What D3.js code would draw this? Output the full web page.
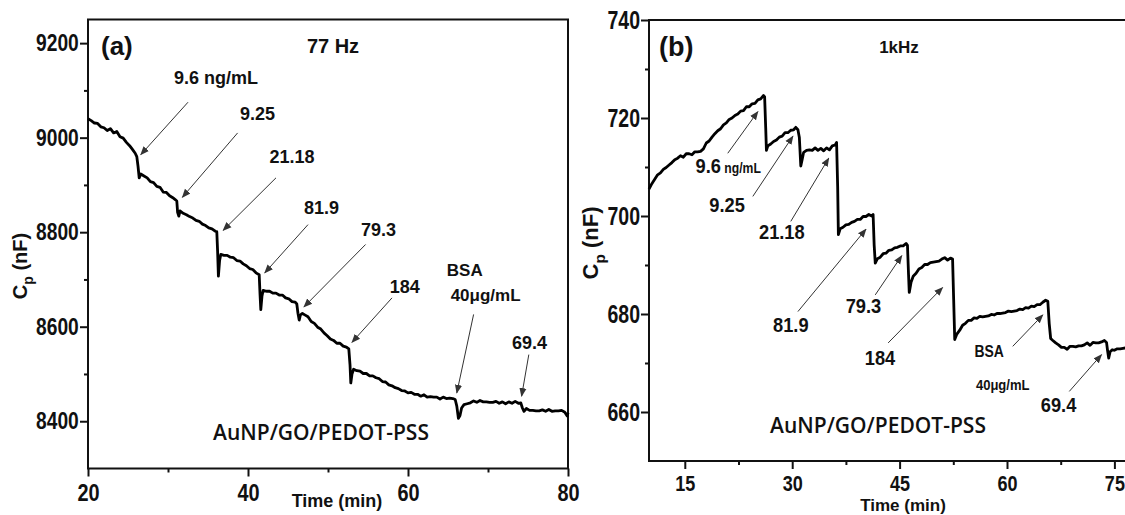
<!DOCTYPE html>
<html><head><meta charset="utf-8">
<script src="https://cdn.jsdelivr.net/npm/d3@7"></script>
<style>
html,body{margin:0;padding:0;background:#fff;}
svg{display:block;}
text{font-family:"Liberation Sans",Arial,sans-serif;fill:#111;}
</style></head>
<body>
<svg id="chart" width="1125" height="515"></svg>
<script>
// ---------- DATA ----------
// Panel (a) 77 Hz : [time (min), Cp (nF)]
const seriesA = [
 [20,9040],[20.4,9036],[20.8,9031],[21.2,9030],[21.6,9023],[22,9021],[22.4,9015],[22.8,9019],[23.2,9010],[23.6,9013],[24,9002],[24.4,8999],[24.8,8990],[25.2,8983],[25.6,8974],[25.9,8967],[26.1,8960],
 [26.25,8940],[26.4,8915],[26.6,8923],[27,8919],[27.4,8915],[27.8,8907],[28.2,8905],[28.6,8897],[29,8895],[29.4,8885],[29.8,8884],[30.2,8877],[30.6,8873],[30.9,8869],[31.1,8866],
 [31.2,8842],[31.35,8834],[31.5,8845],[31.9,8840],[32.3,8837],[32.7,8833],[33.1,8830],[33.5,8825],[33.9,8823],[34.3,8817],[34.7,8814],[35.1,8809],[35.5,8807],[35.9,8802],[36.1,8801],
 [36.2,8760],[36.3,8707],[36.45,8740],[36.6,8753],[37,8751],[37.4,8751],[37.8,8747],[38.2,8746],[38.6,8740],[39,8739],[39.4,8733],[39.8,8729],[40.2,8723],[40.6,8721],[41,8714],[41.4,8710],
 [41.5,8670],[41.6,8636],[41.75,8665],[41.9,8677],[42.3,8675],[42.7,8675],[43.1,8671],[43.5,8671],[43.9,8667],[44.3,8667],[44.7,8661],[45.1,8659],[45.5,8653],[45.9,8652],[46.1,8648],
 [46.25,8628],[46.4,8614],[46.55,8625],[46.8,8628],[47.1,8625],[47.5,8621],[47.9,8611],[48.3,8607],[48.7,8599],[49.1,8595],[49.5,8587],[49.9,8581],[50.3,8574],[50.7,8571],[51.1,8565],[51.5,8565],[51.9,8559],[52.3,8557],[52.6,8553],
 [52.75,8520],[52.85,8481],[53,8500],[53.2,8510],[53.6,8507],[54,8506],[54.4,8501],[54.8,8501],[55.2,8496],[55.6,8496],[56,8492],[56.4,8490],[56.8,8484],[57.2,8483],[57.6,8477],[58,8475],[58.4,8471],[58.8,8469],[59.2,8465],[59.6,8464],[60,8460],[60.4,8461],[60.8,8457],[61.2,8457],[61.6,8453],[62,8456],[62.4,8451],[62.8,8452],[63.2,8451],[63.6,8451],[64,8447],[64.4,8451],[64.8,8448],[65.2,8449],[65.6,8448],[65.9,8446],
 [66.1,8432],[66.3,8406],[66.5,8412],[66.7,8428],[67,8435],[67.4,8437],[67.8,8439],[68.2,8443],[68.6,8440],[69,8444],[69.4,8441],[69.8,8441],[70.2,8440],[70.6,8440],[71,8442],[71.4,8438],[71.8,8441],[72.2,8437],[72.6,8441],[73,8438],[73.4,8442],[73.8,8438],[74.1,8439],
 [74.3,8428],[74.5,8421],[74.8,8427],[75.2,8423],[75.6,8423],[76,8422],[76.4,8422],[76.8,8424],[77.2,8421],[77.6,8425],[78,8421],[78.4,8422],[78.8,8422],[79.2,8423],[79.6,8419],[79.9,8411],[80,8418]
];
// Panel (b) 1 kHz : [time (min), Cp (nF)]
const seriesB = [
 [10,705.5],[10.4,706.6],[10.8,707.5],[11.2,708.4],[11.6,708.8],[12,709.5],[12.4,709.9],[12.8,710.4],[13.2,710.9],[13.6,711.5],[14,711.8],[14.4,712.3],[14.8,712],[15.2,712.7],[15.6,712.7],[16,712.5],[16.4,713.1],[16.8,713.1],[17.2,713.2],[17.6,713.7],[18,714.9],[18.4,715.3],[18.8,716.1],[19.2,716.8],[19.6,717.4],[20,717.8],[20.4,718.6],[20.8,719],[21.2,719.7],[21.6,720],[22,720.5],[22.4,720.8],[22.8,721.4],[23.2,721.5],[23.6,722.3],[24,722.3],[24.4,722.9],[24.8,723],[25.2,723.7],[25.6,723.9],[26,724.6],[26.15,724.3],
 [26.3,718],[26.4,713.4],[26.6,714.3],[27,714.7],[27.4,715.2],[27.8,715.5],[28.2,716.1],[28.6,716.3],[29,717],[29.4,717],[29.8,717.5],[30.2,717.6],[30.5,718.1],[30.8,717.6],[31,716],
 [31.2,710.2],[31.4,711.6],[31.6,713],[32,713.4],[32.4,713.5],[32.8,713.4],[33.2,713.9],[33.6,713.4],[34,713.8],[34.4,713.3],[34.8,713.9],[35.2,713.5],[35.6,714.3],[36,714.5],[36.2,715],
 [36.35,706],[36.45,696.2],[36.7,697.4],[37.1,697.7],[37.5,698.2],[37.9,698.3],[38.3,698.7],[38.7,698.9],[39.1,699.3],[39.5,699.3],[39.9,699.9],[40.3,699.9],[40.7,700.3],[41.1,700],[41.3,700.3],
 [41.45,694],[41.6,690.4],[41.9,691.3],[42.3,691.6],[42.7,692.3],[43.1,692.4],[43.5,693],[43.9,693.1],[44.3,693.5],[44.7,693.6],[45.1,693.9],[45.5,693.9],[45.9,694.4],[46.1,694],
 [46.25,688],[46.35,684.4],[46.6,686.5],[46.9,687.7],[47.3,688.3],[47.7,689.2],[48.1,689.5],[48.5,690.1],[48.9,690.1],[49.3,690.5],[49.7,690.6],[50.1,690.7],[50.5,690.8],[50.9,691.2],[51.3,691.5],[51.7,691],[52.1,691.4],[52.4,691.2],
 [52.55,683],[52.7,674.8],[53,675.9],[53.4,676.7],[53.8,677.7],[54.2,678.1],[54.6,678.7],[55,678.7],[55.4,679.2],[55.8,679.1],[56.2,679.5],[56.6,679.4],[57,679.5],[57.4,679.6],[57.8,679.9],[58.2,679.8],[58.6,680.1],[59,680.1],[59.4,680.2],[59.8,680.3],[60.2,680.6],[60.6,680.5],[61,680.6],[61.4,680.7],[61.8,681],[62.2,680.9],[62.6,681.3],[63,681.2],[63.4,681.6],[63.8,681.5],[64.2,681.9],[64.6,681.9],[65,682.4],[65.4,682.8],[65.7,682.6],
 [65.9,678],[66.1,675],[66.4,674.6],[66.8,674.1],[67.2,673.7],[67.6,673.2],[68,673.2],[68.4,672.8],[68.8,673.4],[69.2,673.4],[69.6,673.3],[70,673.5],[70.4,673.5],[70.8,673.7],[71.2,674.1],[71.6,673.6],[72,674.2],[72.4,674.1],[72.8,674.1],[73.2,674.3],[73.6,674.6],[73.9,674.2],
 [74.05,672.5],[74.2,671],[74.4,672.3],[74.7,672.7],[75,672.6],[75.4,672.9],[75.8,672.9],[76.2,673],[76.6,673.1],[77,673.1],[77.5,673.2]
];
// Tick values
const ticksAx = [20,40,60,80], minorAx = [30,50,70];
const ticksAy = [8400,8600,8800,9000,9200], minorAy = [8500,8700,8900,9100];
const ticksBx = [15,30,45,60,75], minorBx = [22.5,37.5,52.5,67.5];
const ticksBy = [660,680,700,720,740], minorBy = [670,690,710,730];
// Annotation labels: text lines, label centre [t, v], arrow from [t, v] to [t, v]
const labelsA = [
 {lines:["9.6 ng/mL"], at:[36,9128], from:[32.5,9075], to:[26.6,8964]},
 {lines:["9.25"], at:[41.2,9052], from:[38.7,9010], to:[31.8,8874]},
 {lines:["21.18"], at:[45.5,8960], from:[43.5,8915], to:[36.9,8804]},
 {lines:["81.9"], at:[49.2,8853], from:[47.5,8816], to:[42.1,8714]},
 {lines:["79.3"], at:[56.3,8805], from:[54.7,8774], to:[47,8642]},
 {lines:["184"], at:[59.6,8684], from:[58,8661], to:[53,8567]},
 {lines:["BSA","40μg/mL"], at:[67.1,8721], at2:[69.7,8668], from:[68.2,8626], to:[66.1,8460]},
 {lines:["69.4"], at:[75.2,8567], from:[75.1,8541], to:[74.2,8453]}
];
const labelsB = [
 {lines:["9.6"], unit:"ng/mL", at:[16.5,710.3], from:[21,712.8], to:[25.2,721.3]},
 {lines:["9.25"], at:[20.9,702.3], from:[24.5,704], to:[30.1,716.3]},
 {lines:["21.18"], at:[28.55,696.8], from:[29.8,698.9], to:[35.1,711.8]},
 {lines:["81.9"], at:[29.8,677.8], from:[30.8,680.5], to:[40.3,697.3]},
 {lines:["79.3"], at:[39.95,681.7], from:[41.6,683.9], to:[45.3,691.9]},
 {lines:["184"], at:[42.26,671.1], from:[43.4,674.1], to:[51,685.4]},
 {lines:["BSA","40μg/mL"], at:[57.5,672.3], at2:[59.4,665.6], from:[60.8,673.4], to:[65,679.8]},
 {lines:["69.4"], at:[67.2,661.5], from:[68.7,664.2], to:[73.2,671.7]}
];

// ---------- DRAW ----------
const svg = d3.select("#chart");
svg.append("rect").attr("width",1125).attr("height",515).attr("fill","#fff");
const defs = svg.append("defs");
defs.append("marker").attr("id","arr").attr("viewBox","0 0 10 10").attr("refX",9).attr("refY",5)
  .attr("markerWidth",9).attr("markerHeight",9).attr("markerUnits","userSpaceOnUse").attr("orient","auto")
  .append("path").attr("d","M0,1 L10,5 L0,9 Z").attr("fill","#333");

function squeezeText(sel, sx){ sel.attr("transform", `scale(${sx},1)`); }

function panel(cfg){
  const g = svg.append("g");
  const x = d3.scaleLinear().domain(cfg.xd).range(cfg.xr);
  const y = d3.scaleLinear().domain(cfg.yd).range(cfg.yr);
  // axes
  const ax = g.append("g").attr("transform",`translate(0,${cfg.yr[0]})`)
    .call(d3.axisBottom(x).tickValues(cfg.tx).tickSize(8).tickPadding(cfg.xPad).tickFormat(d3.format("d")));
  g.append("g").attr("transform",`translate(0,${cfg.yr[0]})`)
    .call(d3.axisBottom(x).tickValues(cfg.mx).tickSize(4).tickFormat(""));
  const ay = g.append("g").attr("transform",`translate(${cfg.xr[0]},0)`)
    .call(d3.axisLeft(y).tickValues(cfg.ty).tickSize(8).tickPadding(3.5).tickFormat(d3.format("d")));
  g.append("g").attr("transform",`translate(${cfg.xr[0]},0)`)
    .call(d3.axisLeft(y).tickValues(cfg.my).tickSize(4).tickFormat(""));
  g.selectAll(".domain").remove();
  g.selectAll(".tick line").attr("stroke","#111").attr("stroke-width",2);
  ax.selectAll("text").attr("font-size",cfg.xFont).attr("font-weight","bold").attr("fill","#111").call(squeezeText,cfg.sqX);
  ay.selectAll("text").attr("font-size",cfg.yFont).attr("font-weight","bold").attr("fill","#111").call(squeezeText,cfg.sqY);
  // frame
  const xEnd = Math.min(cfg.xr[1], 1140);
  g.append("path").attr("fill","none").attr("stroke","#111").attr("stroke-width",2)
    .attr("d",`M${cfg.xr[0]},${cfg.yr[0]} L${cfg.xr[0]},${cfg.yr[1]} L${xEnd},${cfg.yr[1]} L${xEnd},${cfg.yr[0]} Z`);
  // data line
  g.append("path").datum(cfg.data).attr("fill","none").attr("stroke","#000").attr("stroke-width",2.8)
    .attr("stroke-linejoin","round")
    .attr("d", d3.line().x(d=>x(d[0])).y(d=>y(d[1])));
  // annotations
  cfg.labels.forEach(L=>{
    g.append("line").attr("x1",x(L.from[0])).attr("y1",y(L.from[1])).attr("x2",x(L.to[0])).attr("y2",y(L.to[1]))
      .attr("stroke","#333").attr("stroke-width",1).attr("marker-end","url(#arr)");
    const t = g.append("g").attr("transform",`translate(${x(L.at[0])},${y(L.at[1])}) scale(${cfg.sqL},1)`)
      .append("text").attr("text-anchor", L.unit ? "start" : "middle").attr("dy","0.36em")
      .attr("font-size", L.lines.length>1 ? cfg.bsaFont : cfg.labFont).attr("font-weight","bold");
    t.append("tspan").text(L.lines[0]);
    if(L.unit) t.append("tspan").attr("font-size",cfg.unitFont).text(" "+L.unit);
    if(L.lines.length>1){
      g.append("g").attr("transform",`translate(${x(L.at2[0])},${y(L.at2[1])}) scale(${cfg.sqL},1)`)
        .append("text").attr("text-anchor","middle").attr("dy","0.36em")
        .attr("font-size", cfg.bsa2Font).attr("font-weight","bold").text(L.lines[1]);
    }
  });
  // titles
  g.append("text").attr("x",cfg.tag[0]).attr("y",cfg.tag[1]).attr("font-size",cfg.tagFont).attr("font-weight","bold").text(cfg.tagText);
  g.append("text").attr("x",cfg.freq[0]).attr("y",cfg.freq[1]).attr("text-anchor","middle").attr("font-size",cfg.freqFont).attr("font-weight","bold").text(cfg.freqText);
  g.append("text").attr("x",cfg.mat[0]).attr("y",cfg.mat[1]).attr("text-anchor","middle")
    .attr("font-size",21).attr("font-weight",600).style("font-family","'Open Sans',sans-serif").text("AuNP/GO/PEDOT-PSS");
  g.append("text").attr("x",cfg.xt[0]).attr("y",cfg.xt[1]).attr("text-anchor","middle").attr("font-size",cfg.xtFont).attr("font-weight","bold").text("Time (min)");
  const yt = g.append("text").attr("transform",`translate(${cfg.yt[0]},${cfg.yt[1]}) rotate(-90)`).attr("text-anchor","middle")
    .attr("font-size",cfg.ytFont).attr("font-weight","bold");
  yt.append("tspan").text("C");
  yt.append("tspan").attr("font-size",cfg.ytFont*0.7).attr("dy",cfg.ytFont*0.3).text("p");
  yt.append("tspan").attr("dy",-cfg.ytFont*0.3).text(" (nF)");
}

panel({
  data:seriesA, xd:[20,80], xr:[88,568], yd:[8300,9250], yr:[468.5,19.5],
  tx:ticksAx, mx:minorAx, ty:ticksAy, my:minorAy, xPad:7.5, xFont:24, yFont:24, sqX:0.83, sqY:0.8,
  labels:labelsA, sqL:1, labFont:18, bsaFont:17, bsa2Font:17, unitFont:17,
  tag:[101,55], tagFont:26, tagText:"(a)", freq:[333,53], freqFont:20, freqText:"77 Hz",
  mat:[321,440], xt:[337,507], xtFont:18, yt:[27,266], ytFont:20
});
panel({
  data:seriesB, xd:[10,80], xr:[649,1150.2], yd:[650,740], yr:[461,20],
  tx:ticksBx, mx:minorBx, ty:ticksBy, my:minorBy, xPad:6, xFont:22, yFont:25, sqX:0.82, sqY:0.78,
  labels:labelsB, sqL:0.87, labFont:21, bsaFont:16, bsa2Font:15, unitFont:14,
  tag:[659,56], tagFont:27, tagText:"(b)", freq:[899,53], freqFont:17, freqText:"1kHz",
  mat:[878,433], xt:[903,511], xtFont:17, yt:[598,243], ytFont:22
});
</script>
</body></html>
